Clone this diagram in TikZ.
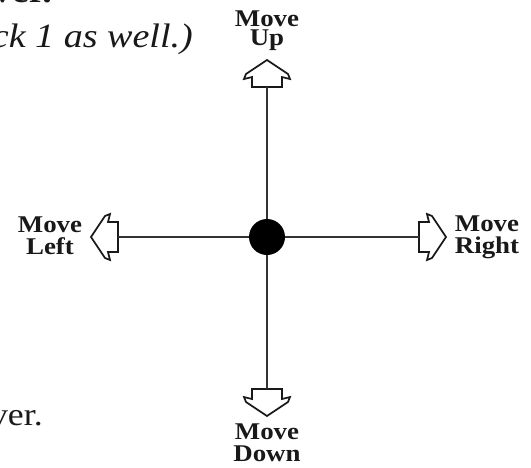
\documentclass[tikz,border=0pt]{standalone}
\usepackage{fontspec}
\setmainfont{Liberation Serif}
\newfontfamily\lblfont[FakeStretch=1.12]{Liberation Serif}
\newfontfamily\bodyfont[FakeStretch=1.12]{Liberation Serif}
\begin{document}
\begin{tikzpicture}[x=1pt,y=-1pt,
  arrowline/.style={draw=black!90, line width=1.7pt, line join=miter, fill=white},
  conn/.style={draw=black!80, line width=1.9pt},
  lbl/.style={font=\lblfont\bfseries\fontsize{24}{22}\selectfont, text=black!90, inner sep=0pt, anchor=north, align=center},
  lbltight/.style={lbl, font=\lblfont\bfseries\fontsize{24}{19}\selectfont},
  body/.style={font=\bodyfont\fontsize{34}{36}\selectfont, text=black!90, inner sep=0pt},
  openarr/.pic={\path[arrowline] (0,0) -- (-21,14) -- (-23,19) -- (-15,17) -- (-15,27) -- (15,27) -- (15,17) -- (23,19) -- (21,14) -- cycle;}
]
\useasboundingbox (0,0) rectangle (531,467);
\clip (0,0) rectangle (531,467);
\fill[white] (0,0) rectangle (531,467);

% body text, cut by the picture's edges
\node[body, anchor=base east] (t0) at (52,2) {\bfseries ver.};
\node[body, anchor=base east] (t1) at (193,47) {\itshape ck 1 as well.)};
\node[body, anchor=base east, font=\bodyfont\fontsize{32}{34}\selectfont] (t2) at (43,425) {ver.};

% centre dot
\node[circle, fill=black, minimum size=36pt, inner sep=0pt] (dot) at (267,237) {};

% arrow shapes
\pic at (267,60) {openarr};
\pic[rotate=180] at (267,416) {openarr};
\pic[rotate=90] at (91,237) {openarr};
\pic[rotate=-90] at (446,237) {openarr};

\coordinate (upend) at (267,87);
\coordinate (downend) at (267,389);
\coordinate (leftend) at (118,237);
\coordinate (rightend) at (419,237);

\draw[conn] (dot) -- (upend);
\draw[conn] (dot) -- (downend);
\draw[conn] (dot) -- (leftend);
\draw[conn] (dot) -- (rightend);

% labels
\node[lbltight] (up) at (267,11) {Move\\Up};
\node[lbl] (left) at (50,217) {Move\\Left};
\node[lbl] (right) at (487,216) {Move\\Right};
\node[lbl] (down) at (267,424) {Move\\Down};
\end{tikzpicture}
\end{document}
